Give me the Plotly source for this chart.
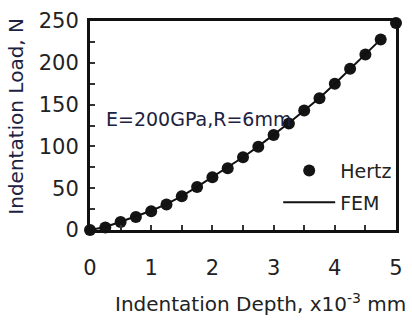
import plotly.graph_objects as go

# Data
depth_hertz = [0.0, 0.25, 0.5, 0.75, 1.0, 1.25, 1.5, 1.75, 2.0, 2.25, 2.5,
               2.75, 3.0, 3.25, 3.5, 3.75, 4.0, 4.25, 4.5, 4.75, 5.0]
load_hertz = [0.0, 3.1, 9.5, 15.6, 22.5, 30.5, 40.5, 51.5, 63.0, 74.0, 87.0,
              99.5, 113.5, 127.5, 143.0, 157.5, 175.0, 193.0, 210.0, 228.0, 247.5]

depth_fem = [0.0, 0.25, 0.5, 0.75, 1.0, 1.25, 1.5, 1.75, 2.0, 2.25, 2.5,
             2.75, 3.0, 3.25, 3.5, 3.75, 4.0, 4.25, 4.5, 4.75]
load_fem = [0.0, 3.5, 9.8, 16.0, 23.0, 31.0, 40.5, 51.5, 63.0, 74.5, 87.0,
            100.0, 113.5, 128.0, 143.0, 158.0, 175.0, 193.0, 210.0, 228.0]

x_ticks = [0, 1, 2, 3, 4, 5]
y_ticks = [0, 50, 100, 150, 200, 250]

FONT = "DejaVu Sans"
TXT = "#222222"
NAVY = "#1c2240"

fig = go.Figure()
fig.add_trace(go.Scatter(
    x=depth_hertz, y=load_hertz, mode="markers", name="Hertz",
    legendgroup="a",
    marker=dict(size=12, color="#141414", line=dict(width=0)),
    cliponaxis=False,
))
fig.add_trace(go.Scatter(
    x=depth_fem, y=load_fem, mode="lines", name="FEM",
    legendgroup="b",
    line=dict(color="#111111", width=2),
))

axis_common = dict(
    showline=True, linecolor="#111111", linewidth=3, mirror=True,
    ticks="inside", ticklen=5, tickwidth=1.5, tickcolor="#333333",
    showgrid=False, zeroline=False,
    tickfont=dict(family=FONT, size=21, color=TXT),
)

fig.update_layout(
    width=412, height=321,
    margin=dict(l=90, r=9, t=14, b=91),
    paper_bgcolor="white", plot_bgcolor="white",
    showlegend=True,
    legend=dict(
        x=0.615, y=0.375, xanchor="left", yanchor="top",
        font=dict(family=FONT, size=19, color=TXT),
        bgcolor="rgba(0,0,0,0)", traceorder="grouped", tracegroupgap=4,
        itemwidth=52,
    ),
    xaxis=dict(
        range=[0, 5], tickvals=x_ticks, ticklabelstandoff=17,
        minor=dict(dtick=0.5, ticks="inside", ticklen=5, tickcolor="#333333"),
        **axis_common,
    ),
    yaxis=dict(
        range=[0, 250], tickvals=y_ticks, ticklabelstandoff=4,
        minor=dict(dtick=25, ticks="inside", ticklen=5, tickcolor="#333333"),
        **axis_common,
    ),
    annotations=[
        dict(x=0.23, y=133, xref="x", yref="y", text="E=200GPa,R=6mm",
             showarrow=False, xanchor="left", yanchor="middle",
             font=dict(family=FONT, size=19, color=NAVY)),
        dict(x=-0.24, y=0.545, xref="paper", yref="paper",
             text="Indentation Load, N", textangle=-90, showarrow=False,
             xanchor="center", yanchor="middle",
             font=dict(family=FONT, size=20, color=NAVY)),
        dict(x=0.075, y=-0.35, xref="paper", yref="paper",
             text="Indentation Depth, x10<sup>-3</sup> mm", showarrow=False,
             xanchor="left", yanchor="middle",
             font=dict(family=FONT, size=20, color=TXT)),
    ],
)

fig.write_html("out.html")
